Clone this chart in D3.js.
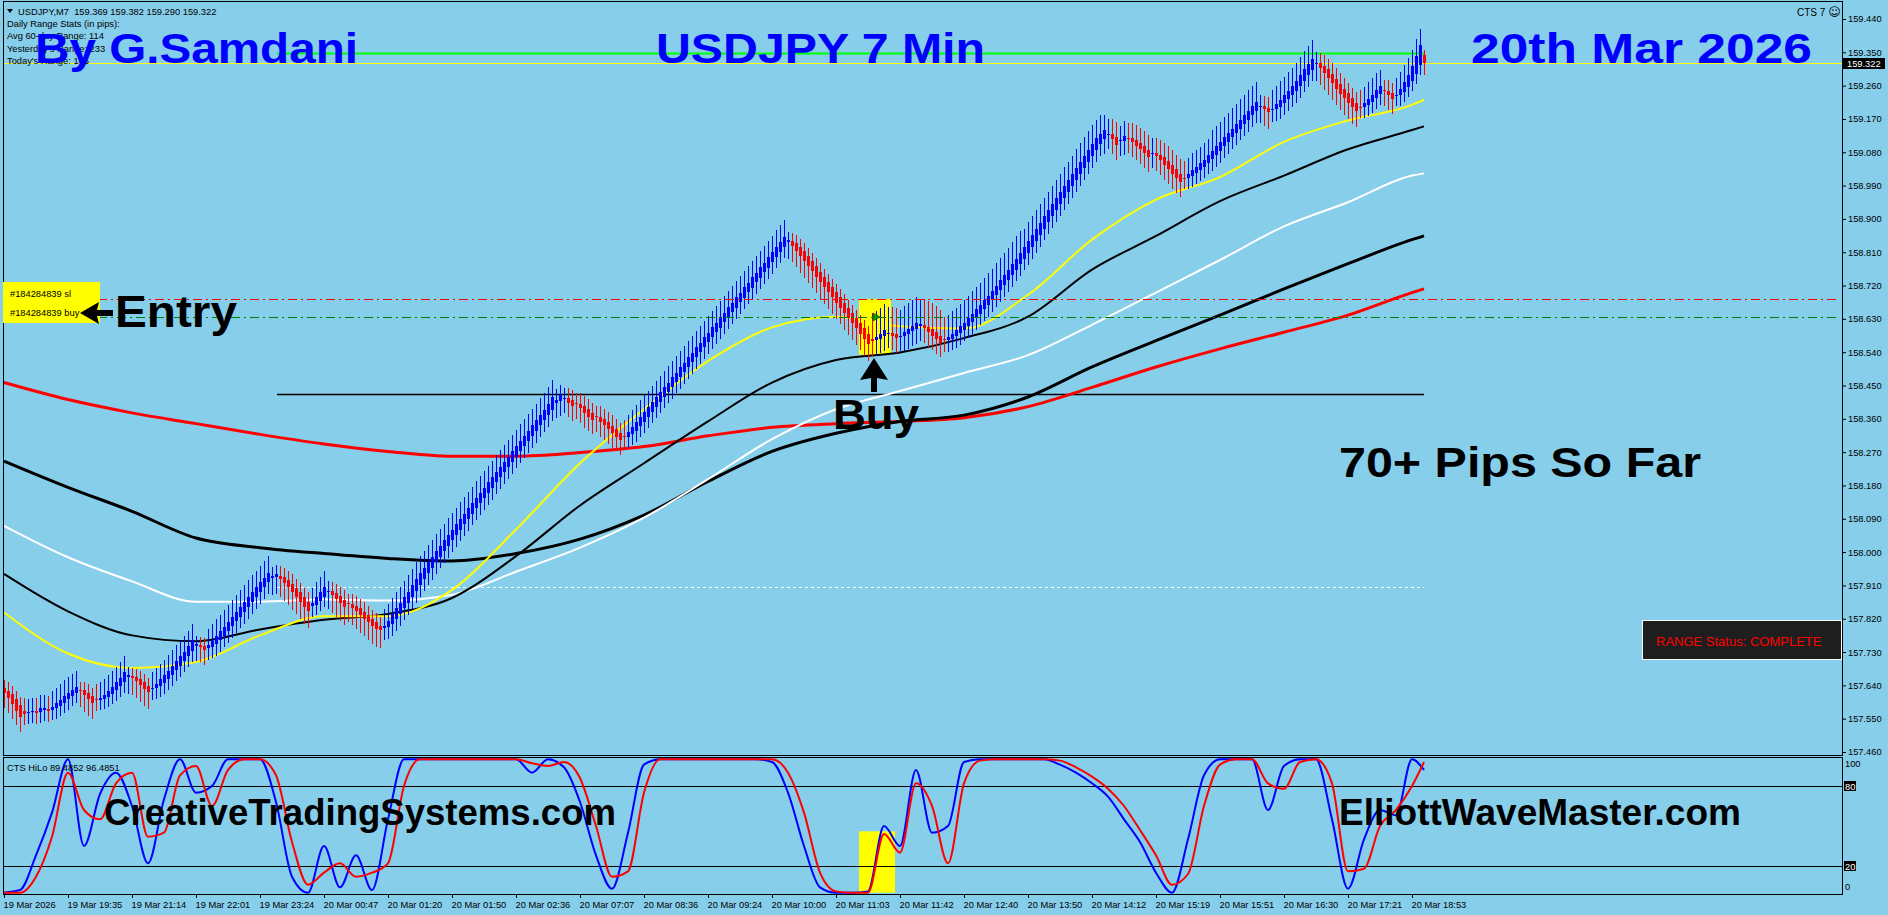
<!DOCTYPE html>
<html>
<head>
<meta charset="utf-8">
<script src="https://cdn.jsdelivr.net/npm/d3@7/dist/d3.min.js"></script>
<style>
  body { margin: 0; background: #87ceeb; overflow: hidden; }
  svg { display: block; }
  text { font-family: Tahoma, "Liberation Sans", Arial, sans-serif; }
  .big { font-family: "Liberation Sans", Arial, sans-serif; font-weight: bold; }
</style>
</head>
<body>
<div class="vis-chart"></div>
<script>
// prices are kept in points (0.001) above BASE
const BASE = 157
const POINT = 0.001

const firstOpenPts = 632
const closePts = [
    620, 606, 590, 572, 555, 562, 568, 572, 566, 578,
    580, 571, 582, 592, 601, 612, 620, 628, 636, 626,
    614, 603, 593, 600, 606, 615, 625, 636, 648, 660,
    676, 668, 660, 651, 640, 630, 622, 634, 645, 656,
    667, 680, 693, 706, 718, 731, 746, 763, 752, 744,
    736, 748, 760, 773, 786, 799, 812, 826, 839, 852,
    866, 879, 892, 905, 918, 931, 944, 936, 940, 928,
    916, 905, 892, 880, 866, 853, 842, 862, 878, 892,
    906, 896, 884, 872, 862, 852, 860, 850, 840, 830,
    820, 810, 800, 792, 790, 800, 815, 832, 848, 862,
    878, 893, 910, 927, 944, 958, 973, 988, 1003, 1017,
    1032, 1046, 1061, 1075, 1090, 1104, 1118, 1132, 1146, 1160,
    1174, 1188, 1202, 1216, 1230, 1244, 1258, 1272, 1286, 1300,
    1314, 1328, 1342, 1356, 1370, 1384, 1400, 1419, 1412, 1424,
    1416, 1404, 1395, 1400, 1388, 1376, 1366, 1358, 1364, 1352,
    1342, 1332, 1322, 1312, 1303, 1312, 1325, 1338, 1351, 1365,
    1378, 1391, 1405, 1418, 1432, 1445, 1458, 1472, 1485, 1499,
    1512, 1526, 1539, 1553, 1566, 1580, 1593, 1607, 1620, 1634,
    1647, 1661, 1674, 1688, 1701, 1715, 1728, 1742, 1755, 1769,
    1782, 1796, 1810, 1824, 1838, 1851, 1842, 1828, 1814, 1800,
    1786, 1772, 1758, 1744, 1730, 1716, 1702, 1688, 1674, 1660,
    1646, 1632, 1618, 1604, 1590, 1576, 1562, 1570, 1580, 1590,
    1600, 1592, 1585, 1578, 1585, 1595, 1603, 1610, 1618, 1615,
    1605, 1595, 1585, 1576, 1566, 1572, 1580, 1590, 1600, 1610,
    1620, 1632, 1644, 1656, 1668, 1680, 1693, 1706, 1720, 1734,
    1748, 1762, 1778, 1793, 1808, 1824, 1841, 1857, 1874, 1890,
    1907, 1923, 1940, 1956, 1972, 1989, 2005, 2021, 2038, 2054,
    2070, 2087, 2103, 2118, 2130, 2140, 2130, 2115, 2100, 2112,
    2125, 2118, 2108, 2098, 2088, 2078, 2068, 2078, 2070, 2058,
    2046, 2034, 2022, 2010, 2000, 2010, 2020, 2032, 2040, 2050,
    2060, 2072, 2084, 2096, 2108, 2120, 2132, 2144, 2156, 2168,
    2180, 2192, 2204, 2216, 2206, 2196, 2188, 2198, 2210, 2222,
    2234, 2246, 2258, 2272, 2288, 2304, 2318, 2332, 2322, 2308,
    2294, 2280, 2266, 2252, 2238, 2226, 2214, 2202, 2192, 2200,
    2212, 2224, 2236, 2248, 2258, 2246, 2234, 2224, 2236, 2252,
    2270, 2290, 2312, 2340, 2369, 2322
]
// [first bar of run, upper wick, lower wick] in points
const wickRuns = [
    [0, 22, 40], [5, 35, 30], [12, 42, 28], [19, 22, 45], [23, 42, 28], [31, 22, 45],
    [37, 42, 30], [48, 22, 42], [51, 45, 32], [67, 25, 48], [77, 42, 28], [81, 25, 48],
    [95, 45, 32], [138, 28, 40], [155, 45, 30], [196, 22, 45], [217, 70, 40], [235, 60, 32],
    [255, 50, 32], [275, 40, 40], [295, 45, 30], [302, 55, 32], [314, 28, 45], [317, 50, 32],
    [328, 28, 45], [339, 45, 28], [345, 28, 40], [348, 45, 28], [355, 13, 32]
]

// moving averages, read at these bars
const maBars = [0, 16, 32, 48, 64, 80, 96, 112, 128, 144, 160, 176, 192, 208, 224, 240, 256, 272, 288, 304, 320, 336, 352, 355]
const maYellow = [157.837, 157.726, 157.687, 157.703, 157.775, 157.827, 157.827, 157.898, 158.061, 158.240, 158.386, 158.516, 158.607, 158.636, 158.610, 158.604, 158.695, 158.844, 158.952, 159.013, 159.108, 159.166, 159.208, 159.222]
const maBlackThin = [157.941, 157.840, 157.775, 157.759, 157.791, 157.817, 157.833, 157.876, 157.989, 158.126, 158.240, 158.353, 158.458, 158.519, 158.539, 158.578, 158.636, 158.763, 158.854, 158.948, 159.017, 159.088, 159.140, 159.150]
const maWhite = [158.071, 157.986, 157.921, 157.866, 157.866, 157.872, 157.869, 157.885, 157.947, 158.012, 158.093, 158.197, 158.305, 158.386, 158.435, 158.484, 158.532, 158.614, 158.701, 158.789, 158.880, 158.945, 159.017, 159.023]
const maBlackThick = [158.246, 158.175, 158.110, 158.038, 158.012, 157.996, 157.983, 157.976, 157.996, 158.035, 158.100, 158.191, 158.272, 158.321, 158.353, 158.370, 158.419, 158.500, 158.571, 158.640, 158.711, 158.779, 158.844, 158.854]
const maRed = [158.458, 158.412, 158.376, 158.347, 158.318, 158.292, 158.272, 158.259, 158.259, 158.269, 158.285, 158.314, 158.337, 158.347, 158.353, 158.363, 158.393, 158.445, 158.500, 158.549, 158.594, 158.640, 158.701, 158.711]

// CTS HiLo oscillator, one value every 4 bars (last one = last bar)
const oscBlue = [
    0, 2, 28, 60, 100, 35, 74, 90, 65, 22,
    70, 100, 75, 80, 100, 100, 100, 68, 12, 0,
    35, 4, 28, 2, 55, 100, 100, 100, 100, 100,
    100, 100, 100, 90, 100, 94, 68, 28, 3, 45,
    96, 100, 100, 100, 100, 100, 100, 100, 98, 75,
    35, 4, 0, 0, 1, 50, 35, 92, 45, 50,
    98, 100, 100, 100, 100, 100, 96, 90, 82, 72,
    55, 38, 15, 0, 40, 88, 100, 100, 100, 62,
    95, 100, 100, 55, 3, 40, 62, 58, 100, 92
]
const oscRed = [
    0, 0, 12, 42, 90, 62, 55, 82, 90, 42,
    45, 88, 95, 65, 92, 100, 100, 88, 38, 6,
    15, 22, 12, 15, 22, 80, 100, 100, 100, 100,
    100, 100, 100, 97, 95, 98, 86, 50, 12, 16,
    75, 100, 100, 100, 100, 100, 100, 100, 100, 90,
    60, 15, 1, 0, 0, 44, 30, 82, 65, 22,
    82, 99, 100, 100, 100, 100, 99, 94, 87, 78,
    65, 47, 28, 6, 14, 65, 96, 100, 100, 82,
    78, 98, 100, 82, 16, 18, 50, 62, 80, 98
]

const timeBars = [0, 16, 32, 48, 64, 80, 96, 112, 128, 144, 160, 176, 192, 208, 224, 240, 256, 272, 288, 304, 320, 336, 352]
const timeLabels = ['19 Mar 2026', '19 Mar 19:35', '19 Mar 21:14', '19 Mar 22:01', '19 Mar 23:24', '20 Mar 00:47',
    '20 Mar 01:20', '20 Mar 01:50', '20 Mar 02:36', '20 Mar 07:07', '20 Mar 08:36', '20 Mar 09:24', '20 Mar 10:00',
    '20 Mar 11:03', '20 Mar 11:42', '20 Mar 12:40', '20 Mar 13:50', '20 Mar 14:12', '20 Mar 15:19', '20 Mar 15:51',
    '20 Mar 16:30', '20 Mar 17:21', '20 Mar 18:53']
const priceTicks = ['157.460', '157.550', '157.640', '157.730', '157.820', '157.910', '158.000', '158.090', '158.180',
    '158.270', '158.360', '158.450', '158.540', '158.630', '158.720', '158.810', '158.900', '158.990', '159.080',
    '159.170', '159.260', '159.350', '159.440']

const bidPrice = 159.322
const dayHighPrice = 159.348
const slPrice = 158.684
const buyPrice = 158.635
const blackLevel = 158.427
const whiteLevel = 157.905

const dimensions = {
    width: 1888,
    height: 915,
    left: 3,
    right: 1842,
    top: 1,
    mainBottom: 755,
    oscTop: 757,
    oscBottom: 894
}

const BULL = '#0000ff'
const BEAR = '#ff0000'

let visChart = d3.select('.vis-chart').append('svg')
    .attr('width', dimensions.width)
    .attr('height', dimensions.height)
    .style('background-color', '#87ceeb')

const nBars = closePts.length
const xScale = d3.scaleLinear().domain([0, nBars - 1]).range([4, 4 + 4 * (nBars - 1)])
const yScale = d3.scaleLinear().domain([157.46, 159.44]).range([752, 19])
const oscScale = d3.scaleLinear().domain([0, 100]).range([892.7, 759.3])

const toPrice = p => BASE + p * POINT

function wickAt(i) {
    let w = wickRuns[0]
    wickRuns.forEach(r => { if (r[0] <= i) w = r })
    return w
}

// heikin-ashi style bodies: each open sits at the middle of the previous body
let prevOpen = firstOpenPts, prevClose = firstOpenPts
const bars = closePts.map((c, i) => {
    const o = i === 0 ? firstOpenPts : (prevOpen + prevClose) / 2
    prevOpen = o
    prevClose = c
    const w = wickAt(i)
    return {
        i: i,
        o: toPrice(o),
        c: toPrice(c),
        h: toPrice(Math.max(o, c) + w[1]),
        l: toPrice(Math.min(o, c) - w[2])
    }
})

makeVisualization()

function makeVisualization() {
    drawHighlights()
    drawLevels()
    drawAverages()
    drawCandles()
    drawOrderLines()
    drawOscillator()
    drawFrame()
    drawAxis()
    addTexts()
}

/******** yellow highlight boxes ********/
function drawHighlights() {
    visChart.append('rect')
        .attr('x', xScale(213.75)).attr('width', xScale(221.75) - xScale(213.75))
        .attr('y', yScale(slPrice)).attr('height', yScale(158.533) - yScale(slPrice))
        .attr('fill', '#ffff00')
    visChart.append('rect')
        .attr('x', xScale(213.75)).attr('width', xScale(222.75) - xScale(213.75))
        .attr('y', oscScale(46)).attr('height', oscScale(0) - oscScale(46))
        .attr('fill', '#ffff00')
}

/******** horizontal levels ********/
function drawLevels() {
    const x0 = xScale(68.25), x1 = xScale(nBars - 1)
    const lv = [
        { p: whiteLevel, c: '#ffffff', w: 1, d: '3,3', a: x0, b: x1 },
        { p: blackLevel, c: '#000000', w: 1.5, d: null, a: x0, b: x1 },
        { p: dayHighPrice, c: '#00ff00', w: 2, d: null, a: x0, b: x1 },
        { p: bidPrice, c: '#ffff00', w: 1, d: null, a: dimensions.left, b: dimensions.right }
    ]
    visChart.append('g').selectAll('line')
        .data(lv).enter().append('line')
        .attr('x1', d => d.a).attr('x2', d => d.b)
        .attr('y1', d => Math.round(yScale(d.p)) + 0.5)
        .attr('y2', d => Math.round(yScale(d.p)) + 0.5)
        .attr('stroke', d => d.c)
        .attr('stroke-width', d => d.w)
        .attr('stroke-dasharray', d => d.d)
}

function drawOrderLines() {
    const lv = [{ p: slPrice, c: '#ff0000' }, { p: buyPrice, c: '#008000' }]
    visChart.append('g').selectAll('line')
        .data(lv).enter().append('line')
        .attr('x1', dimensions.left).attr('x2', dimensions.right - 4)
        .attr('y1', d => Math.round(yScale(d.p)) + 0.5)
        .attr('y2', d => Math.round(yScale(d.p)) + 0.5)
        .attr('stroke', d => d.c)
        .attr('stroke-dasharray', '9,4,2,4')
}

/******** moving averages ********/
function drawAverages() {
    const lines = [
        { v: maRed, c: '#ff0000', w: 3 },
        { v: maBlackThick, c: '#000000', w: 3 },
        { v: maWhite, c: '#ffffff', w: 2 },
        { v: maBlackThin, c: '#000000', w: 2 },
        { v: maYellow, c: '#ffff00', w: 2 }
    ]
    const line = d3.line()
        .x((d, i) => xScale(maBars[i]))
        .y(d => yScale(d))
        .curve(d3.curveMonotoneX)
    visChart.append('g').selectAll('path')
        .data(lines).enter().append('path')
        .attr('d', d => line(d.v))
        .attr('fill', 'none')
        .attr('stroke', d => d.c)
        .attr('stroke-width', d => d.w)
}

/******** candles ********/
function drawCandles() {
    const g = visChart.append('g').attr('shape-rendering', 'crispEdges')
    const colour = d => d.c >= d.o ? BULL : BEAR
    g.selectAll('line')
        .data(bars).enter().append('line')
        .attr('x1', d => xScale(d.i) + 0.5).attr('x2', d => xScale(d.i) + 0.5)
        .attr('y1', d => yScale(d.h)).attr('y2', d => yScale(d.l))
        .attr('stroke', colour)
    g.selectAll('rect')
        .data(bars).enter().append('rect')
        .attr('x', d => xScale(d.i) - 1)
        .attr('width', 3)
        .attr('y', d => yScale(Math.max(d.o, d.c)))
        .attr('height', d => Math.max(1, Math.abs(yScale(d.o) - yScale(d.c))))
        .attr('fill', colour)
}

/******** oscillator ********/
function drawOscillator() {
    visChart.append('g').selectAll('line')
        .data([80, 20]).enter().append('line')
        .attr('x1', dimensions.left).attr('x2', dimensions.right)
        .attr('y1', d => Math.round(oscScale(d)) + 0.5)
        .attr('y2', d => Math.round(oscScale(d)) + 0.5)
        .attr('stroke', '#000')
    const oscBar = k => Math.min(k * 4, nBars - 1)
    const line = d3.line()
        .x((d, k) => xScale(oscBar(k)))
        .y(d => oscScale(d))
        .curve(d3.curveMonotoneX)
    visChart.append('path').attr('d', line(oscBlue))
        .attr('fill', 'none').attr('stroke', '#0000ff').attr('stroke-width', 2)
    visChart.append('path').attr('d', line(oscRed))
        .attr('fill', 'none').attr('stroke', '#ff0000').attr('stroke-width', 2)

    visChart.append('text').attr('x', 7).attr('y', 771)
        .style('font-size', '9.3px').text('CTS HiLo 89.4852 96.4851')

    const lab = [{ v: 100, box: false }, { v: 80, box: true }, { v: 20, box: true }, { v: 0, box: false }]
    lab.forEach(d => {
        const y = Math.round(oscScale(d.v))
        if (d.box) {
            visChart.append('rect').attr('x', 1844).attr('y', y - 5).attr('width', 12).attr('height', 10).attr('fill', '#000')
        }
        visChart.append('text')
            .attr('x', 1845).attr('y', d.v === 100 ? 767 : d.v === 0 ? 890 : y + 3.5)
            .attr('fill', d.box ? '#fff' : '#000')
            .style('font-size', '9.3px')
            .text(d.v)
    })
}

function drawFrame() {
    const f = visChart.append('g').attr('fill', 'none').attr('stroke', '#000').attr('shape-rendering', 'crispEdges')
    f.append('rect').attr('x', dimensions.left).attr('y', dimensions.top)
        .attr('width', dimensions.right - dimensions.left).attr('height', dimensions.mainBottom - dimensions.top)
    f.append('rect').attr('x', dimensions.left).attr('y', dimensions.oscTop)
        .attr('width', dimensions.right - dimensions.left).attr('height', dimensions.oscBottom - dimensions.oscTop)
}

/******** axes ********/
function drawAxis() {
    const yAxis = d3.axisRight(yScale)
        .tickValues(priceTicks.map(Number))
        .tickFormat((d, i) => priceTicks[i])
        .tickSize(4).tickPadding(2)
    const gy = visChart.append('g')
        .attr('transform', 'translate(' + dimensions.right + ',0)')
        .call(yAxis)
    gy.select('.domain').remove()
    gy.selectAll('text').style('font-size', '9.3px').style('font-family', 'Tahoma, "Liberation Sans", Arial, sans-serif').attr('fill', '#000')
    gy.selectAll('line').attr('stroke', '#000')

    const xAxis = d3.axisBottom(xScale)
        .tickValues(timeBars)
        .tickFormat((d, i) => timeLabels[i])
        .tickSize(4).tickPadding(3)
    const gx = visChart.append('g')
        .attr('transform', 'translate(0,' + dimensions.oscBottom + ')')
        .call(xAxis)
    gx.select('.domain').remove()
    gx.selectAll('text').attr('text-anchor', 'start').attr('dx', -1)
        .style('font-size', '9.3px').style('font-family', 'Tahoma, "Liberation Sans", Arial, sans-serif').attr('fill', '#000')
    gx.selectAll('line').attr('stroke', '#000')

    // current bid box
    const by = Math.round(yScale(bidPrice))
    visChart.append('rect').attr('x', 1843).attr('y', by - 5).attr('width', 42).attr('height', 11).attr('fill', '#000')
    visChart.append('text').attr('x', 1847).attr('y', by + 4).attr('fill', '#fff')
        .style('font-size', '9.3px').text(bidPrice.toFixed(3))
}

/******** texts and annotations ********/
function addTexts() {
    // info block top left
    visChart.append('path').attr('d', 'M7,9 L13,9 L10,13 Z').attr('fill', '#000')
    const info = ['USDJPY,M7  159.369 159.382 159.290 159.322', 'Daily Range Stats (in pips):',
        'Avg 60-day Range: 114', "Yesterday's Range: 233", "Today's Range: 165"]
    visChart.append('g').selectAll('text')
        .data(info).enter().append('text')
        .attr('x', (d, i) => i === 0 ? 18 : 7)
        .attr('y', (d, i) => 15 + i * 12.2)
        .style('font-size', '9.3px')
        .style('white-space', 'pre')
        .text(d => d)

    visChart.append('text').attr('x', 1797).attr('y', 16).style('font-size', '10px')
        .text('CTS 7 ')
        .append('tspan').style('font-family', '"DejaVu Sans"').style('font-size', '12px').text('\u263A')

    const big = [
        { t: 'By G.Samdani', x: 35, y: 63, s: 42, w: 323, c: '#0000ff' },
        { t: 'USDJPY 7 Min', x: 656, y: 63, s: 42, w: 329, c: '#0000ff' },
        { t: '20th Mar 2026', x: 1471, y: 63, s: 42, w: 341, c: '#0000ff' },
        { t: 'Entry', x: 115, y: 327, s: 44, w: 122, c: '#000' },
        { t: 'Buy', x: 833, y: 429, s: 43, w: 86, c: '#000' },
        { t: '70+ Pips So Far', x: 1339, y: 477, s: 42, w: 362, c: '#000' },
        { t: 'CreativeTradingSystems.com', x: 104, y: 825, s: 36, w: 512, c: '#000' },
        { t: 'ElliottWaveMaster.com', x: 1339, y: 825, s: 36, w: 402, c: '#000' }
    ]
    visChart.append('g').selectAll('text')
        .data(big).enter().append('text')
        .attr('class', 'big')
        .attr('x', d => d.x).attr('y', d => d.y)
        .attr('textLength', d => d.w).attr('lengthAdjust', 'spacingAndGlyphs')
        .style('font-size', d => d.s + 'px')
        .attr('fill', d => d.c)
        .text(d => d.t)

    // order labels
    visChart.append('rect').attr('x', 3).attr('y', 282).attr('width', 97).attr('height', 41).attr('fill', '#ffff00')
    visChart.append('text').attr('x', 10).attr('y', 297).style('font-size', '9.3px').text('#184284839 sl')
    visChart.append('text').attr('x', 10).attr('y', 316).style('font-size', '9.3px').text('#184284839 buy')

    // arrows
    visChart.append('path').attr('d', 'M80,313 L99,302 L97,310 L113,310 L113,316 L97,316 L99,324 Z').attr('fill', '#000')
    const ax = xScale(217.5), ay = 358
    visChart.append('path')
        .attr('d', `M${ax},${ay} L${ax + 14},${ay + 22} L${ax + 3},${ay + 20} L${ax + 3},${ay + 34} L${ax - 3},${ay + 34} L${ax - 3},${ay + 20} L${ax - 14},${ay + 22} Z`)
        .attr('fill', '#000')
    // buy order marker
    const mx = xScale(217.25), my = yScale(buyPrice)
    visChart.append('path').attr('d', `M${mx},${my - 4} L${mx + 7},${my} L${mx},${my + 4} Z`)
        .attr('fill', '#00a000').attr('stroke', '#004000').attr('stroke-width', 0.6)

    // range status box
    visChart.append('rect').attr('x', 1642.5).attr('y', 620.5).attr('width', 199).attr('height', 39)
        .attr('fill', '#1e1e1e').attr('stroke', '#fff')
    visChart.append('text').attr('x', 1656).attr('y', 646).attr('fill', '#ff0000')
        .style('font-size', '13px').text('RANGE Status: COMPLETE')
}
</script>
</body>
</html>
